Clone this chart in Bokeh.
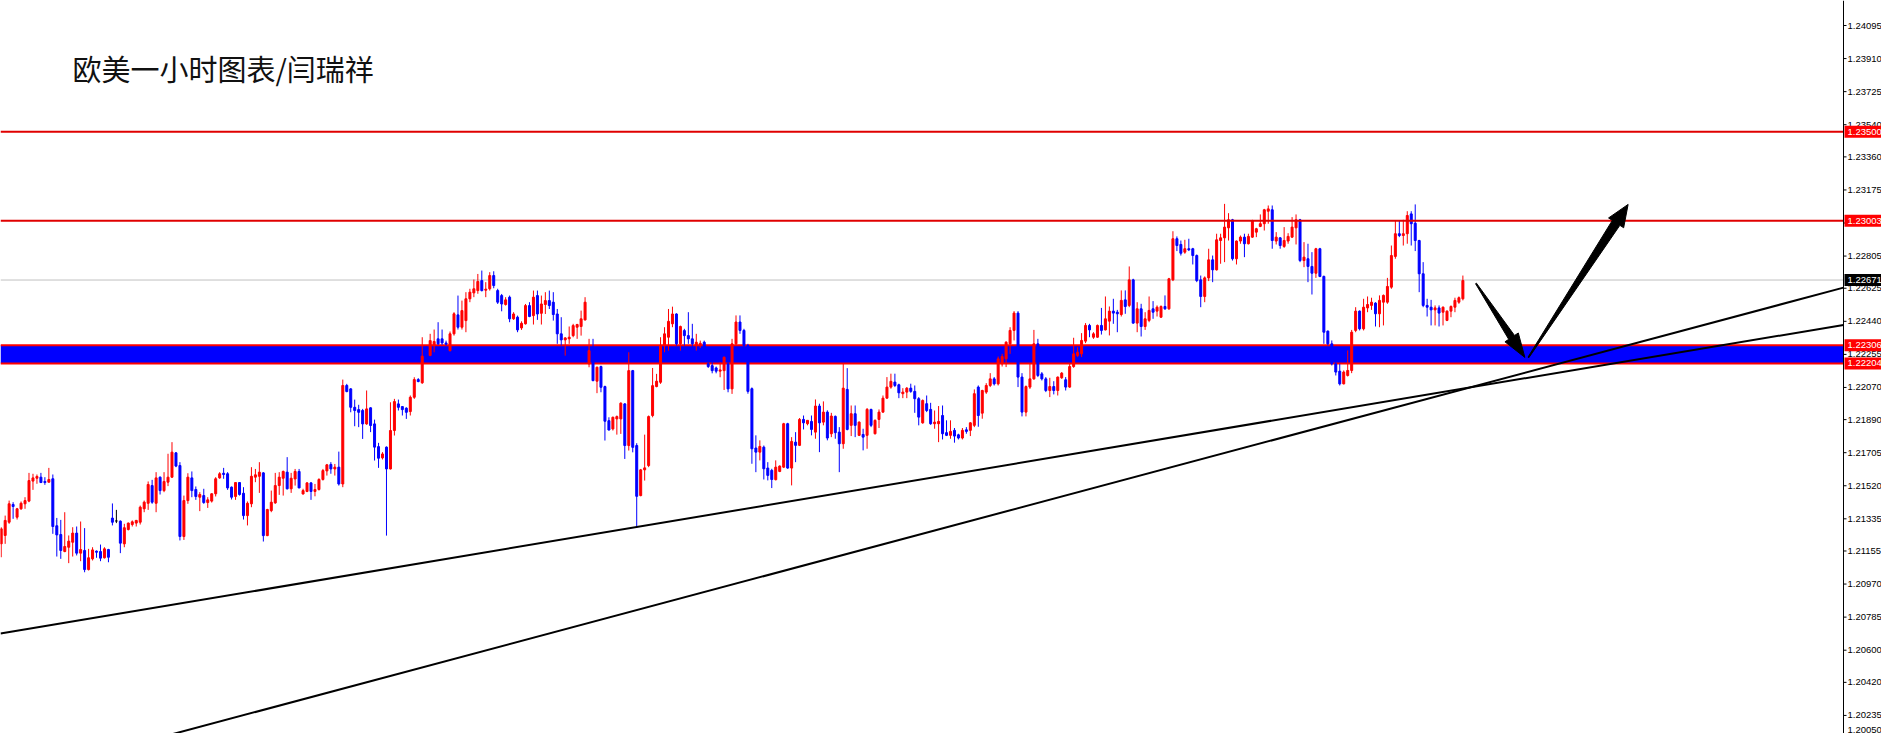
import math
import numpy as np
from bokeh.plotting import figure
from bokeh.models import Range1d, ColumnDataSource, Label
from bokeh.core.properties import value
from bokeh.embed import file_html
from bokeh.resources import INLINE

# ---------------- data (EURUSD H1) ----------------
opens = [
1.21195,1.21242,1.21316,1.21415,1.21344,1.21391,1.21419,1.21434,1.21546,1.21562,
1.21568,1.21544,1.21540,1.21559,1.21296,1.21247,1.21152,1.21176,1.21204,1.21255,
1.21143,1.21158,1.21051,1.21111,1.21154,1.21152,1.21117,1.21163,1.21339,1.21323,
1.21322,1.21195,1.21275,1.21303,1.21311,1.21316,1.21391,1.21422,1.21521,1.21422,
1.21568,1.21493,1.21540,1.21568,1.21704,1.21633,1.21236,1.21437,1.21564,1.21499,
1.21456,1.21465,1.21426,1.21434,1.21475,1.21564,1.21590,1.21587,1.21512,1.21460,
1.21538,1.21478,1.21353,1.21419,1.21568,1.21573,1.21592,1.21241,1.21381,1.21424,
1.21521,1.21562,1.21596,1.21503,1.21558,1.21600,1.21474,1.21488,1.21536,1.21488,
1.21499,1.21555,1.21603,1.21639,1.21614,1.21624,1.21530,1.22081,1.22062,1.21959,
1.21946,1.21941,1.21866,1.21956,1.21866,1.21739,1.21676,1.21736,1.21614,1.21829,
1.21978,1.21963,1.21954,1.21935,1.22015,1.22114,1.22096,1.22260,1.22249,1.22304,
1.22342,1.22342,1.22319,1.22276,1.22370,1.22476,1.22407,1.22444,1.22566,1.22599,
1.22612,1.22668,1.22614,1.22622,1.22696,1.22612,1.22584,1.22534,1.22575,1.22454,
1.22463,1.22403,1.22426,1.22528,1.22472,1.22584,1.22485,1.22534,1.22556,1.22547,
1.22481,1.22370,1.22336,1.22342,1.22360,1.22407,1.22411,1.22448,1.22202,1.22270,
1.22105,1.22187,1.22075,1.21884,1.21838,1.21894,1.21894,1.21978,1.21745,1.22164,
1.21745,1.21465,1.21609,1.21633,1.21913,1.22075,1.22099,1.22304,1.22351,1.22426,
1.22481,1.22314,1.22388,1.22360,1.22342,1.22304,1.22310,1.22323,1.22202,1.22192,
1.22179,1.22161,1.22164,1.22202,1.22062,1.22314,1.22436,1.22389,1.22305,1.22063,
1.21731,1.21708,1.21736,1.21619,1.21606,1.21554,1.21600,1.21624,1.21867,1.21619,
1.21764,1.21746,1.21891,1.21867,1.21880,1.21820,1.21966,1.21876,1.21932,1.21811,
1.21908,1.21820,1.21755,1.22059,1.21858,1.21923,1.21802,1.21807,1.21802,1.21947,
1.21811,1.21891,1.21932,1.22010,1.22072,1.22100,1.22085,1.22035,1.22044,1.22066,
1.22048,1.22007,1.21872,1.21979,1.21947,1.21867,1.21867,1.21913,1.21817,1.21802,
1.21830,1.21805,1.21787,1.21833,1.21830,1.21858,1.22072,1.21926,1.22044,1.22081,
1.22118,1.22090,1.22202,1.22230,1.22314,1.22389,1.22486,1.22128,1.21932,1.22072,
1.22118,1.22314,1.22146,1.22118,1.22053,1.22075,1.22053,1.22124,1.22113,1.22072,
1.22187,1.22249,1.22258,1.22329,1.22417,1.22351,1.22351,1.22417,1.22392,1.22441,
1.22497,1.22491,1.22478,1.22560,1.22529,1.22672,1.22430,1.22510,1.22411,1.22445,
1.22510,1.22497,1.22463,1.22523,1.22510,1.22672,1.22902,1.22870,1.22827,1.22846,
1.22846,1.22808,1.22672,1.22579,1.22683,1.22784,1.22728,1.22892,1.22907,1.22963,
1.23008,1.22790,1.22889,1.22911,1.22874,1.22911,1.22939,1.22971,1.22986,1.23056,
1.23064,1.22889,1.22907,1.22859,1.22889,1.22911,1.22963,1.23008,1.22780,1.22790,
1.22747,1.22709,1.22846,1.22691,1.22385,1.22314,1.22202,1.22161,1.22090,1.22137,
1.22165,1.22389,1.22497,1.22398,1.22515,1.22529,1.22542,1.22482,1.22547,1.22547,
1.22631,1.22803,1.22930,1.22920,1.22930,1.23041,1.22989,1.22892,1.22706,1.22529,
1.22519,1.22504,1.22515,1.22491,1.22445,1.22497,1.22519,1.22547,1.22566]

highs = [
1.21288,1.21353,1.21437,1.21428,1.21396,1.21432,1.21456,1.21592,1.21587,1.21583,
1.21592,1.21568,1.21620,1.21583,1.21340,1.21329,1.21372,1.21242,1.21288,1.21292,
1.21320,1.21283,1.21167,1.21176,1.21158,1.21191,1.21176,1.21167,1.21421,1.21385,
1.21326,1.21307,1.21314,1.21326,1.21329,1.21409,1.21437,1.21544,1.21553,1.21596,
1.21572,1.21596,1.21699,1.21764,1.21708,1.21652,1.21465,1.21590,1.21600,1.21516,
1.21484,1.21503,1.21456,1.21478,1.21568,1.21596,1.21620,1.21596,1.21516,1.21540,
1.21540,1.21512,1.21432,1.21624,1.21614,1.21652,1.21596,1.21391,1.21493,1.21592,
1.21596,1.21605,1.21680,1.21592,1.21614,1.21614,1.21503,1.21540,1.21540,1.21530,
1.21562,1.21614,1.21642,1.21652,1.21642,1.21711,1.22114,1.22090,1.22066,1.22002,
1.21973,1.21950,1.22053,1.21959,1.21890,1.21760,1.21708,1.21740,1.21987,1.22006,
1.22002,1.21965,1.21959,1.22025,1.22127,1.22122,1.22351,1.22300,1.22370,1.22394,
1.22435,1.22394,1.22332,1.22383,1.22491,1.22584,1.22556,1.22603,1.22622,1.22674,
1.22705,1.22724,1.22659,1.22715,1.22720,1.22622,1.22593,1.22575,1.22584,1.22491,
1.22472,1.22440,1.22537,1.22547,1.22612,1.22612,1.22584,1.22603,1.22612,1.22603,
1.22509,1.22463,1.22351,1.22411,1.22426,1.22426,1.22500,1.22575,1.22342,1.22342,
1.22187,1.22192,1.22080,1.21903,1.21907,1.21913,1.21987,1.21982,1.22267,1.22168,
1.21758,1.21614,1.21806,1.21913,1.22179,1.22146,1.22351,1.22407,1.22509,1.22522,
1.22485,1.22416,1.22398,1.22491,1.22426,1.22370,1.22332,1.22332,1.22211,1.22211,
1.22187,1.22211,1.22243,1.22239,1.22342,1.22473,1.22473,1.22398,1.22314,1.22070,
1.21802,1.21774,1.21745,1.21652,1.21615,1.21662,1.21634,1.21872,1.21872,1.21792,
1.21820,1.21899,1.21913,1.21886,1.21913,1.22003,1.21979,1.21992,1.21942,1.21928,
1.21913,1.21848,1.22203,1.22178,1.21969,1.21969,1.21880,1.21839,1.21955,1.21951,
1.21891,1.21947,1.22025,1.22128,1.22147,1.22147,1.22091,1.22066,1.22072,1.22091,
1.22081,1.22016,1.22003,1.22025,1.21984,1.21941,1.21966,1.21969,1.21886,1.21886,
1.21843,1.21811,1.21843,1.21848,1.21876,1.22059,1.22081,1.22057,1.22094,1.22150,
1.22128,1.22243,1.22258,1.22329,1.22407,1.22497,1.22497,1.22150,1.22081,1.22202,
1.22392,1.22342,1.22156,1.22128,1.22124,1.22105,1.22131,1.22156,1.22128,1.22202,
1.22348,1.22295,1.22374,1.22430,1.22426,1.22379,1.22422,1.22515,1.22579,1.22523,
1.22566,1.22504,1.22613,1.22613,1.22747,1.22678,1.22547,1.22538,1.22491,1.22579,
1.22553,1.22529,1.22529,1.22585,1.22683,1.22944,1.22915,1.22892,1.22896,1.22902,
1.22851,1.22814,1.22696,1.22691,1.22846,1.22808,1.22930,1.22930,1.23097,1.23045,
1.23013,1.22892,1.22920,1.22930,1.22930,1.23008,1.22963,1.23038,1.23069,1.23088,
1.23088,1.22939,1.22911,1.22967,1.22933,1.23023,1.23038,1.23013,1.22883,1.22874,
1.22827,1.22851,1.22851,1.22696,1.22389,1.22333,1.22212,1.22202,1.22165,1.22277,
1.22392,1.22519,1.22501,1.22566,1.22579,1.22572,1.22547,1.22585,1.22590,1.22683,
1.22864,1.23004,1.23004,1.23008,1.23056,1.23056,1.23094,1.22896,1.22771,1.22566,
1.22560,1.22529,1.22529,1.22523,1.22501,1.22529,1.22572,1.22579,1.22696]

lows = [
1.21120,1.21195,1.21307,1.21335,1.21331,1.21385,1.21391,1.21428,1.21497,1.21531,
1.21535,1.21525,1.21538,1.21251,1.21124,1.21111,1.21148,1.21087,1.21124,1.21130,
1.21098,1.21036,1.21046,1.21102,1.21117,1.21098,1.21113,1.21092,1.21298,1.21311,
1.21143,1.21176,1.21270,1.21292,1.21292,1.21303,1.21372,1.21385,1.21419,1.21372,
1.21471,1.21484,1.21518,1.21564,1.21624,1.21214,1.21217,1.21419,1.21456,1.21441,
1.21378,1.21419,1.21396,1.21426,1.21460,1.21559,1.21559,1.21497,1.21443,1.21441,
1.21465,1.21331,1.21298,1.21400,1.21540,1.21480,1.21208,1.21238,1.21372,1.21419,
1.21469,1.21465,1.21499,1.21480,1.21521,1.21506,1.21471,1.21484,1.21441,1.21461,
1.21493,1.21549,1.21577,1.21587,1.21577,1.21521,1.21512,1.22043,1.21931,1.21853,
1.21848,1.21782,1.21861,1.21820,1.21661,1.21620,1.21667,1.21241,1.21611,1.21801,
1.21941,1.21913,1.21894,1.21913,1.22006,1.22099,1.22090,1.22220,1.22245,1.22267,
1.22308,1.22308,1.22304,1.22271,1.22360,1.22394,1.22394,1.22379,1.22547,1.22575,
1.22594,1.22607,1.22575,1.22612,1.22625,1.22537,1.22496,1.22528,1.22435,1.22448,
1.22379,1.22392,1.22422,1.22463,1.22422,1.22448,1.22422,1.22481,1.22509,1.22444,
1.22314,1.22304,1.22248,1.22314,1.22351,1.22342,1.22360,1.22444,1.22183,1.22105,
1.22038,1.22043,1.21773,1.21829,1.21829,1.21806,1.21810,1.21670,1.21717,1.21707,
1.21284,1.21461,1.21549,1.21624,1.21903,1.22071,1.22090,1.22267,1.22276,1.22407,
1.22304,1.22276,1.22304,1.22314,1.22295,1.22276,1.22291,1.22220,1.22179,1.22149,
1.22149,1.22127,1.22056,1.22043,1.22034,1.22305,1.22370,1.22212,1.22035,1.21643,
1.21596,1.21662,1.21555,1.21550,1.21507,1.21550,1.21596,1.21619,1.21615,1.21522,
1.21652,1.21742,1.21835,1.21858,1.21802,1.21783,1.21708,1.21858,1.21774,1.21792,
1.21783,1.21596,1.21727,1.21830,1.21798,1.21792,1.21798,1.21718,1.21727,1.21848,
1.21807,1.21843,1.21928,1.22007,1.22063,1.22072,1.22010,1.22010,1.22010,1.22040,
1.21928,1.21858,1.21867,1.21932,1.21861,1.21839,1.21764,1.21779,1.21798,1.21783,
1.21761,1.21779,1.21779,1.21811,1.21798,1.21848,1.21850,1.21895,1.22034,1.22072,
1.22081,1.22081,1.22187,1.22184,1.22258,1.22333,1.22072,1.21908,1.21908,1.22062,
1.22113,1.22128,1.22109,1.22044,1.22016,1.22031,1.22025,1.22118,1.22053,1.22068,
1.22180,1.22240,1.22240,1.22318,1.22351,1.22342,1.22348,1.22366,1.22389,1.22361,
1.22426,1.22379,1.22467,1.22482,1.22519,1.22426,1.22379,1.22355,1.22392,1.22435,
1.22454,1.22467,1.22460,1.22504,1.22504,1.22665,1.22833,1.22808,1.22818,1.22833,
1.22758,1.22659,1.22519,1.22547,1.22665,1.22659,1.22724,1.22762,1.22771,1.22892,
1.22780,1.22758,1.22874,1.22799,1.22870,1.22907,1.22911,1.22967,1.22948,1.22986,
1.22846,1.22870,1.22846,1.22851,1.22874,1.22907,1.22870,1.22771,1.22743,1.22659,
1.22590,1.22683,1.22687,1.22314,1.22305,1.22193,1.22137,1.22081,1.22087,1.22131,
1.22150,1.22379,1.22389,1.22389,1.22491,1.22504,1.22411,1.22407,1.22417,1.22538,
1.22622,1.22790,1.22911,1.22864,1.22874,1.22864,1.22833,1.22603,1.22519,1.22467,
1.22417,1.22417,1.22411,1.22417,1.22441,1.22463,1.22491,1.22538,1.22557]

closes = [
1.21279,1.21326,1.21419,1.21404,1.21391,1.21422,1.21437,1.21549,1.21564,1.21572,
1.21538,1.21538,1.21555,1.21292,1.21245,1.21158,1.21180,1.21210,1.21255,1.21143,
1.21163,1.21051,1.21117,1.21161,1.21148,1.21115,1.21167,1.21120,1.21316,1.21323,
1.21199,1.21285,1.21311,1.21318,1.21326,1.21400,1.21428,1.21527,1.21428,1.21564,
1.21493,1.21544,1.21568,1.21708,1.21630,1.21236,1.21437,1.21568,1.21493,1.21460,
1.21471,1.21426,1.21441,1.21475,1.21559,1.21587,1.21583,1.21508,1.21456,1.21538,
1.21471,1.21353,1.21422,1.21573,1.21581,1.21596,1.21241,1.21387,1.21428,1.21521,
1.21568,1.21600,1.21503,1.21562,1.21600,1.21508,1.21493,1.21536,1.21488,1.21499,
1.21555,1.21605,1.21637,1.21614,1.21624,1.21530,1.22081,1.22047,1.21959,1.21941,
1.21931,1.21866,1.21950,1.21857,1.21736,1.21674,1.21698,1.21614,1.21829,1.21991,
1.21959,1.21946,1.21931,1.22015,1.22114,1.22103,1.22245,1.22240,1.22332,1.22327,
1.22314,1.22319,1.22312,1.22370,1.22482,1.22407,1.22500,1.22566,1.22603,1.22622,
1.22663,1.22612,1.22620,1.22696,1.22640,1.22547,1.22537,1.22560,1.22454,1.22481,
1.22392,1.22429,1.22528,1.22467,1.22575,1.22481,1.22537,1.22556,1.22528,1.22478,
1.22370,1.22336,1.22347,1.22351,1.22416,1.22422,1.22454,1.22547,1.22276,1.22108,
1.22183,1.22071,1.21881,1.21832,1.21903,1.21907,1.21982,1.21745,1.22164,1.21735,
1.21461,1.21609,1.21620,1.21907,1.22080,1.22105,1.22304,1.22370,1.22440,1.22481,
1.22314,1.22411,1.22360,1.22342,1.22314,1.22323,1.22317,1.22239,1.22187,1.22164,
1.22161,1.22168,1.22239,1.22062,1.22314,1.22436,1.22389,1.22305,1.22048,1.21727,
1.21708,1.21740,1.21615,1.21578,1.21555,1.21624,1.21630,1.21867,1.21619,1.21768,
1.21746,1.21891,1.21872,1.21886,1.21835,1.21966,1.21872,1.21932,1.21787,1.21910,
1.21817,1.21755,1.22066,1.21835,1.21923,1.21858,1.21876,1.21792,1.21947,1.21858,
1.21886,1.21932,1.22010,1.22072,1.22104,1.22081,1.22040,1.22044,1.22066,1.22048,
1.22007,1.21904,1.21997,1.21941,1.21867,1.21876,1.21880,1.21811,1.21802,1.21824,
1.21798,1.21787,1.21830,1.21824,1.21872,1.22035,1.21913,1.22053,1.22081,1.22118,
1.22090,1.22230,1.22243,1.22323,1.22389,1.22486,1.22128,1.21932,1.22075,1.22118,
1.22314,1.22137,1.22118,1.22053,1.22075,1.22053,1.22128,1.22150,1.22072,1.22187,
1.22258,1.22267,1.22333,1.22417,1.22392,1.22370,1.22417,1.22389,1.22454,1.22497,
1.22486,1.22482,1.22557,1.22523,1.22672,1.22430,1.22510,1.22411,1.22454,1.22501,
1.22491,1.22519,1.22523,1.22510,1.22678,1.22902,1.22864,1.22821,1.22846,1.22840,
1.22808,1.22668,1.22579,1.22683,1.22784,1.22728,1.22896,1.22907,1.22967,1.23008,
1.22790,1.22889,1.22911,1.22874,1.22915,1.23004,1.22958,1.22986,1.23064,1.23069,
1.22892,1.22911,1.22864,1.22892,1.22915,1.22967,1.23008,1.22780,1.22799,1.22747,
1.22709,1.22846,1.22691,1.22379,1.22314,1.22202,1.22156,1.22090,1.22156,1.22165,
1.22379,1.22497,1.22398,1.22519,1.22534,1.22547,1.22482,1.22557,1.22585,1.22635,
1.22808,1.22930,1.22920,1.22930,1.23032,1.22986,1.22892,1.22706,1.22529,1.22519,
1.22504,1.22515,1.22486,1.22519,1.22497,1.22523,1.22557,1.22572,1.22668]

tick_values = [1.24095, 1.23910, 1.23725, 1.23540, 1.23360, 1.23175, 1.22990, 1.22805,
               1.22625, 1.22440, 1.22255, 1.22070, 1.21890, 1.21705, 1.21520, 1.21335,
               1.21155, 1.20970, 1.20785, 1.20600, 1.20420, 1.20235, 1.20050]

title_text = "欧美一小时图表/闫瑞祥"
resistance_levels = [1.23500, 1.23003]
zone_low, zone_high = 1.22204, 1.22306
bid_price = 1.22671

# drawn objects: anchor points (bar index, price)
trend_a_x, trend_a_y = [-0.175, 463.08], [1.20693, 1.22417]
trend_b_x, trend_b_y = [28.57, 463.08], [1.20044, 1.22624]
arrow_down_x, arrow_down_y = [371.3, 383.6], [1.22652, 1.22238]
arrow_up_x, arrow_up_y = [384.5, 409.6], [1.22238, 1.23094]

assert len(opens) == len(highs) == len(lows) == len(closes) == 369

# ---------------- geometry ----------------
W, H = 1881, 733
AXIS_PX = 1843                      # screen x of the price-axis line
X0 = -0.175                         # left edge in bar units
X_AX = 463.825                      # bar coordinate of the axis line
PXB = AXIS_PX / (X_AX - X0)         # pixels per bar
X1 = X0 + W / PXB
Y1 = 1.242349
Y0 = 1.201339
PXY = H / (Y1 - Y0)                 # pixels per price unit

p = figure(width=W, height=H, x_range=Range1d(X0, X1), y_range=Range1d(Y0, Y1),
           output_backend="svg", toolbar_location=None,
           x_axis_location=None, y_axis_location=None,
           min_border=0, min_border_right=0, min_border_left=0,
           min_border_top=0, min_border_bottom=0)
p.outline_line_color = None
p.grid.visible = False
p.background_fill_color = "white"
p.border_fill_color = "white"

# support zone (under candles)
p.quad(left=[X0], right=[X_AX], bottom=[zone_low], top=[zone_high],
       fill_color="#0000ff", line_color=None)
p.segment(x0=[X0, X0], x1=[X_AX, X_AX], y0=[zone_low, zone_high], y1=[zone_low, zone_high],
          line_color="#ff0000", line_width=2)
# bid line
p.segment(x0=[X0], x1=[X_AX], y0=[bid_price], y1=[bid_price], line_color="#c0c0c0", line_width=1)

# candles
idx = np.arange(len(opens))
o = np.array(opens); c = np.array(closes)
colors = ["#ff0000" if cc > oo else ("#0000ff" if cc < oo else "#000000") for oo, cc in zip(o, c)]
src = ColumnDataSource(dict(x=idx, o=o, c=c, h=highs, l=lows,
                            top=np.maximum(o, c), bottom=np.minimum(o, c), color=colors))
p.segment(x0="x", y0="l", x1="x", y1="h", source=src, line_color="color", line_width=1)
p.vbar(x="x", width=0.5, top="top", bottom="bottom", source=src,
       fill_color="color", line_color="color", line_width=1)

# horizontal resistance lines
n_lv = len(resistance_levels)
p.segment(x0=[X0] * n_lv, x1=[X_AX] * n_lv, y0=resistance_levels, y1=resistance_levels,
          line_color="#e00000", line_width=2)

# trend lines (extended to the axis line)
def extend(xs, ys):
    k = (ys[1] - ys[0]) / (xs[1] - xs[0])
    xa, xb = min(xs[0], X0), X_AX
    return [xa, xb], [ys[0] + k * (xa - xs[0]), ys[0] + k * (xb - xs[0])]

for xs, ys in [(trend_a_x, trend_a_y), (trend_b_x, trend_b_y)]:
    ex, ey = extend(xs, ys)
    p.line(ex, ey, line_color="black", line_width=2)

# arrows as polygons
def arrow_poly(xs, ys, w_tail, w_shaft, head_len, head_half):
    ax0, ay0 = xs[0] * PXB, ys[0] * PXY
    ax1, ay1 = xs[1] * PXB, ys[1] * PXY
    dx, dy = ax1 - ax0, ay1 - ay0
    L = math.hypot(dx, dy)
    ux, uy = dx / L, dy / L
    nx, ny = -uy, ux
    bx, by = ax1 - ux * head_len, ay1 - uy * head_len
    pts = [(ax0 + nx * w_tail / 2, ay0 + ny * w_tail / 2),
           (bx + nx * w_shaft / 2, by + ny * w_shaft / 2),
           (bx + nx * head_half, by + ny * head_half),
           (ax1, ay1),
           (bx - nx * head_half, by - ny * head_half),
           (bx - nx * w_shaft / 2, by - ny * w_shaft / 2),
           (ax0 - nx * w_tail / 2, ay0 - ny * w_tail / 2)]
    return [q[0] / PXB for q in pts], [q[1] / PXY for q in pts]

ax_d, ay_d = arrow_poly(arrow_down_x, arrow_down_y, 1, 7, 24, 8)
ax_u, ay_u = arrow_poly(arrow_up_x, arrow_up_y, 1, 9, 22, 9)
p.patches([ax_d, ax_u], [ay_d, ay_u], fill_color="black", line_color="black", line_width=1)

# ---------------- price axis (drawn at the right) ----------------
AX_FONT = value("Liberation Sans")
AX_SIZE = value("9.5px")
p.segment(x0=[X_AX], x1=[X_AX], y0=[Y0], y1=[Y1], line_color="black", line_width=1)

half_txt = 6 / PXY
inside = [t for t in tick_values if Y0 + half_txt <= t <= Y1 - half_txt]
edge = [t for t in tick_values if t < Y0 + half_txt]   # label that the lower edge would cut

ni = len(inside)
p.segment(x0=[X_AX] * ni, x1=[X_AX + 3 / PXB] * ni, y0=inside, y1=inside,
          line_color="black", line_width=1)
p.text(x=[X_AX] * ni, y=inside, text=[f"{t:.5f}" for t in inside],
       x_offset=4, text_align="left", text_baseline="middle",
       text_font=AX_FONT, text_font_size=AX_SIZE, text_color="black")
if edge:
    # keep the bottom-most label, set just inside the lower edge
    p.text(x=[X_AX] * len(edge), y=[Y0] * len(edge), text=[f"{t:.5f}" for t in edge],
           x_offset=4, y_offset=-1, text_align="left", text_baseline="bottom",
           text_font=AX_FONT, text_font_size=AX_SIZE, text_color="black")

# price boxes on the axis
box_prices = [resistance_levels[0], resistance_levels[1], zone_high, zone_low, bid_price]
box_colors = ["#ff0000", "#ff0000", "#ff0000", "#ff0000", "#000000"]
half_h = 6 / PXY
p.quad(left=[X_AX + 1 / PXB] * 5, right=[X1] * 5,
       bottom=[b - half_h for b in box_prices], top=[b + half_h for b in box_prices],
       fill_color=box_colors, line_color=None)
p.text(x=[X_AX] * 5, y=box_prices, text=[f"{b:.5f}" for b in box_prices],
       x_offset=4, text_align="left", text_baseline="middle",
       text_font=AX_FONT, text_font_size=AX_SIZE, text_color="white")

# title
p.add_layout(Label(x=72, y=H - 67, x_units="screen", y_units="screen", text=title_text,
                   text_font="Noto Sans CJK SC", text_font_size="29px", text_color="#111111",
                   text_align="left", text_baseline="middle"))

open("out.html", "w").write(file_html(p, INLINE))
